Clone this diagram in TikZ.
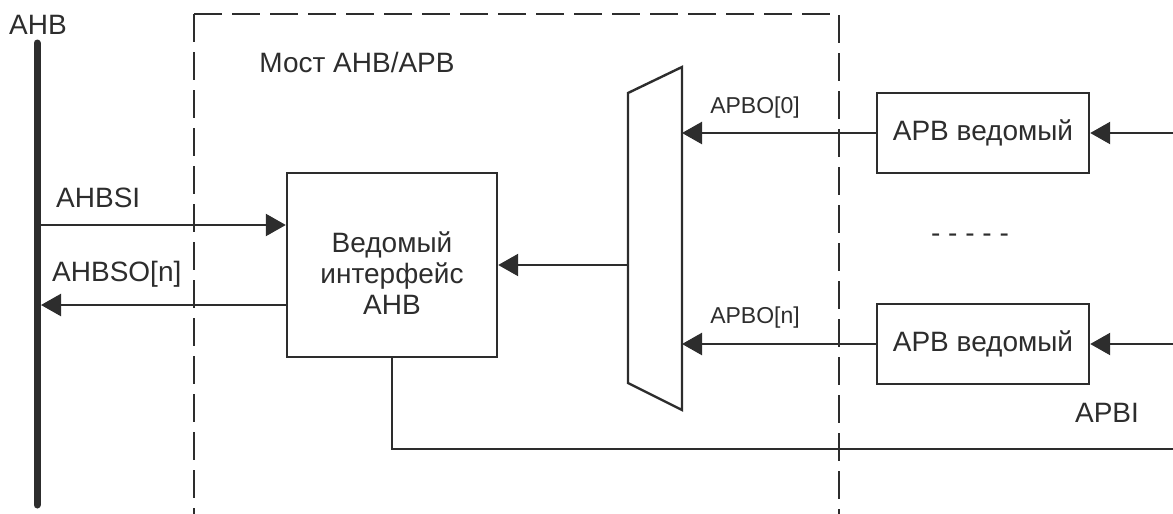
\documentclass[tikz,border=0pt]{standalone}
\usepackage{fontspec}
\setmainfont{Liberation Sans}
\usetikzlibrary{arrows.meta,positioning,calc}
\definecolor{linegray}{RGB}{45,45,45}

\begin{document}
\begin{tikzpicture}[x=0.5pt, y=-0.5pt, color=linegray,
  >={Triangle[length=10pt,width=11pt]}, line width=1.2pt,
  b/.style={draw, line width=1.2pt, align=center, inner sep=0pt,
            font=\fontsize{14}{15.5}\selectfont},
  lbl/.style={inner sep=0pt, font=\fontsize{14}{15.5}\selectfont},
  sml/.style={inner sep=0pt, font=\fontsize{11.5}{13}\selectfont},
  bridgeline/.style={line width=1.2pt, dash pattern=on 14pt off 5pt}]
\useasboundingbox (0,0) rectangle (1173,514);
% AHB bus
\node[lbl] (ahb) at (38,25) {AHB};
\coordinate (bustop) at (37,43); \coordinate (busbot) at (37,505);
\draw[line width=3.5pt, line cap=round] (bustop) -- (busbot);
% bridge boundary
\draw[bridgeline] (194,14) -- (194,514);
\draw[bridgeline] (194,14) -- (839,14) -- (839,514);
\node[lbl] (bridge) at (357,62) {Мост AHB/APB};
\node[b, minimum width=105pt, minimum height=92pt] (slv) at (392,265) {};
\node[lbl, align=center] (slvtext) at ([yshift=-4pt]slv.center)
  {Ведомый\\интерфейс\\AHB};
% mux
\coordinate (mtl) at (628,93); \coordinate (mtr) at (682,67);
\coordinate (mbr) at (682,410); \coordinate (mbl) at (628,383);
\draw (mtl) -- (mtr) -- (mbr) -- (mbl) -- cycle;
% APB slaves
\node[b, minimum width=106pt, minimum height=40pt] (apb0) at (983,133) {APB ведомый};
\node[b, minimum width=106pt, minimum height=40pt] (apbn) at (983,344) {APB ведомый};
\node[lbl] (dots) at (970,238) {- - - - -};
% signals
\coordinate (si) at (41,225); \coordinate (so) at (41,305);
\draw[->] (si) -- (si -| slv.west);
\draw[->] (slv.west |- so) -- (so);
\node[lbl, anchor=west] (ahbsi) at (55,198) {AHBSI};
\node[lbl, anchor=west] (ahbso) at (51,274) {AHBSO[n]};
\coordinate (muxin) at (628,265);
\draw[->] (muxin) -- (slv);
\coordinate (mux0) at (682,133); \coordinate (muxn) at (682,344);
\draw[->] (apb0) -- (mux0);
\draw[->] (apbn) -- (muxn);
\node[sml] (apbo0) at (755,108) {APBO[0]};
\node[sml] (apbon) at (755,318) {APBO[n]};
\coordinate (in0) at (1173,133); \coordinate (inn) at (1173,344);
\draw[->] (in0) -- (apb0);
\draw[->] (inn) -- (apbn);
\coordinate (apbiend) at (1173,449);
\draw (slv.south) |- (apbiend);
\node[lbl] (apbi) at (1107,413) {APBI};
\end{tikzpicture}
\end{document}
